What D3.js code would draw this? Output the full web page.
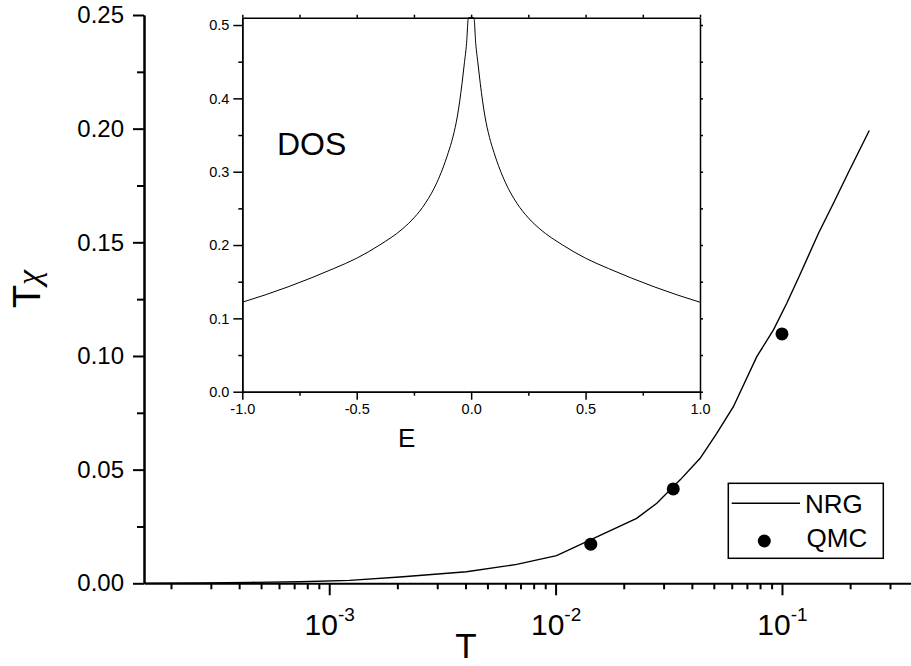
<!DOCTYPE html>
<html>
<head>
<meta charset="utf-8">
<script src="https://cdn.jsdelivr.net/npm/d3@7"></script>
<style>
  body { margin: 0; background: #fff; }
  svg { display: block; }
  text { font-family: "Liberation Sans", Arial, Helvetica, sans-serif; fill: #000; }
</style>
</head>
<body>
<svg id="chart" width="911" height="666"></svg>
<script>
// NRG susceptibility T*chi versus temperature T
const nrgT   = [1.52e-4, 2.7e-4, 4.5e-4, 7.4e-4, 1.23e-3, 2.05e-3, 4.04e-3, 6.73e-3, 0.0101,
                0.0228, 0.028, 0.0355, 0.0435, 0.0515, 0.061, 0.0774, 0.0917, 0.105, 0.120,
                0.145, 0.169, 0.196, 0.243];
const nrgChi = [0.0000, 0.0002, 0.0004, 0.0007, 0.0013, 0.0028, 0.0051, 0.0083, 0.0122,
                0.0286, 0.0352, 0.0455, 0.0550, 0.0660, 0.0777, 0.0997, 0.1115, 0.1232, 0.1357,
                0.1540, 0.1673, 0.1805, 0.1992];

// QMC points
const qmcT   = [0.0143, 0.0331, 0.1];
const qmcChi = [0.0172, 0.0415, 0.1097];

// density of states for the inset
const dosE   = [-1, -0.9, -0.8, -0.7, -0.6, -0.5, -0.4, -0.3, -0.25, -0.2, -0.15, -0.1, -0.08,
                -0.06, -0.04, -0.03, -0.02, -0.012,
                0.012, 0.02, 0.03, 0.04, 0.06, 0.08, 0.1, 0.15, 0.2, 0.25, 0.3, 0.4, 0.5, 0.6,
                0.7, 0.8, 0.9, 1];
const dosRho = [0.122, 0.132, 0.143, 0.155, 0.168, 0.182, 0.200, 0.222, 0.237, 0.257, 0.285, 0.326, 0.347,
                0.376, 0.420, 0.447, 0.475, 0.510,
                0.510, 0.475, 0.447, 0.420, 0.376, 0.347, 0.326, 0.285, 0.257, 0.237, 0.222, 0.200, 0.182, 0.168,
                0.155, 0.143, 0.132, 0.122];

// axis ticks and labels
const mainYTicks      = [0, 0.05, 0.10, 0.15, 0.20, 0.25];
const mainYMinorTicks = [0.025, 0.075, 0.125, 0.175, 0.225];
const mainXDecades    = [1e-4, 1e-3, 1e-2, 1e-1];
const mainXLabelled   = [1e-3, 1e-2, 1e-1];
const mainXExponents  = ["-3", "-2", "-1"];
const insetXTicks      = [-1, -0.5, 0, 0.5, 1];
const insetXLabels     = ["-1.0", "-0.5", "0.0", "0.5", "1.0"];
const insetXMinorTicks = [-0.75, -0.25, 0.25, 0.75];
const insetYTicks      = [0, 0.1, 0.2, 0.3, 0.4, 0.5];
const insetYLabels     = ["0.0", "0.1", "0.2", "0.3", "0.4", "0.5"];
const insetYMinorTicks = [0.05, 0.15, 0.25, 0.35, 0.45];

const svg = d3.select("#chart");

// ---------- main panel ----------
const x = d3.scaleLog().domain([1.52e-4, 0.3715]).range([144, 911]);
const y = d3.scaleLinear().domain([0, 0.25]).range([583.3, 15]);

const minorX = [];
mainXDecades.forEach(d => { for (let k = 2; k <= 9; k++) { const v = k * d; if (v >= x.domain()[0] && v <= x.domain()[1]) minorX.push(v); } });

// y axis
const gy = svg.append("g").attr("transform", "translate(144,0)");
gy.call(d3.axisLeft(y).tickValues(mainYMinorTicks).tickSize(7).tickSizeOuter(0).tickFormat(""));
gy.append("g").call(d3.axisLeft(y).tickValues(mainYTicks).tickSize(11).tickSizeOuter(0).tickPadding(9).tickFormat(d3.format(".2f")));
gy.selectAll("path.domain").attr("stroke-width", 2).attr("stroke", "#000");
gy.selectAll("line").attr("stroke-width", 2).attr("stroke", "#000");
gy.selectAll("text").style("font-size", "24px").attr("fill", "#000");

// x axis
const gx = svg.append("g").attr("transform", "translate(0,583.3)");
gx.call(d3.axisBottom(x).tickValues(minorX).tickSize(6).tickSizeOuter(0).tickFormat(""));
const gxMaj = gx.append("g").call(d3.axisBottom(x).tickValues(mainXLabelled).tickSize(12).tickSizeOuter(0).tickFormat(""));
gxMaj.select("path.domain").remove();
gx.selectAll("path.domain").attr("stroke-width", 2).attr("stroke", "#000");
gx.selectAll("line").attr("stroke-width", 2).attr("stroke", "#000");
gxMaj.selectAll(".tick text").remove();
gxMaj.selectAll(".tick").each(function (d, i) {
  const t = d3.select(this).append("text")
    .attr("y", 52).attr("text-anchor", "middle").attr("fill", "#000");
  t.append("tspan").style("font-size", "30px").text("10");
  t.append("tspan").style("font-size", "19px").attr("dy", -14).text(mainXExponents[i]);
});

// axis titles
svg.append("text")
  .attr("transform", "translate(40,289) rotate(-90)")
  .attr("text-anchor", "middle")
  .call(t => {
    t.append("tspan").style("font-size", "38px").text("T");
    t.append("tspan").style("font-size", "34px").style("font-family", "'Liberation Serif', serif").attr("font-style", "italic").text("χ");
  });
svg.append("text").attr("x", 466).attr("y", 658).attr("text-anchor", "middle")
  .style("font-size", "35px").text("T");

// NRG line
const nrgData = nrgT.map((t, i) => [t, nrgChi[i]]);
svg.append("path")
  .datum(nrgData)
  .attr("fill", "none").attr("stroke", "#000").attr("stroke-width", 1.4)
  .attr("d", d3.line().x(d => x(d[0])).y(d => y(d[1])));

// QMC markers
svg.append("g").selectAll("circle")
  .data(qmcT.map((t, i) => [t, qmcChi[i]]))
  .join("circle")
  .attr("cx", d => x(d[0])).attr("cy", d => y(d[1])).attr("r", 6.5).attr("fill", "#000");

// legend
const lg = svg.append("g");
lg.append("rect").attr("x", 728.3).attr("y", 483.3).attr("width", 155).attr("height", 75)
  .attr("fill", "#fff").attr("stroke", "#000").attr("stroke-width", 1.5);
lg.append("line").attr("x1", 731.7).attr("x2", 800).attr("y1", 503.3).attr("y2", 503.3)
  .attr("stroke", "#000").attr("stroke-width", 1.4);
lg.append("text").attr("x", 805).attr("y", 513.3).style("font-size", "26px").text("NRG");
lg.append("circle").attr("cx", 764.3).attr("cy", 541).attr("r", 6.5).attr("fill", "#000");
lg.append("text").attr("x", 806.5).attr("y", 547.3).style("font-size", "26px").text("QMC");

// ---------- inset: DOS ----------
const ix = d3.scaleLinear().domain([-1, 1]).range([242.3, 700]);
const iy = d3.scaleLinear().domain([0, 0.51]).range([391.7, 17.7]);

const ins = svg.append("g");
ins.append("rect").attr("x", 242.3).attr("y", 17.7).attr("width", 700 - 242.3).attr("height", 391.7 - 17.7)
  .attr("fill", "#fff").attr("stroke", "none");

function styleAxis(g, w) {
  g.selectAll("path.domain").attr("stroke", "#000").attr("stroke-width", w);
  g.selectAll("line").attr("stroke", "#000").attr("stroke-width", w);
  g.selectAll("text").style("font-size", "14.5px").attr("fill", "#000");
}

const ily = ins.append("g").attr("transform", "translate(242.3,0)");
ily.call(d3.axisLeft(iy).tickValues(insetYMinorTicks).tickSize(4).tickSizeOuter(0).tickFormat(""));
ily.append("g").call(d3.axisLeft(iy).tickValues(insetYTicks).tickSize(9).tickSizeOuter(0).tickPadding(4)
  .tickFormat((d, i) => insetYLabels[i]));
styleAxis(ily, 1.5);

const iry = ins.append("g").attr("transform", "translate(700,0)");
iry.call(d3.axisRight(iy).tickValues(insetYTicks.concat(insetYMinorTicks)).tickSize(3).tickSizeOuter(0).tickFormat(""));
styleAxis(iry, 1.5);

const ibx = ins.append("g").attr("transform", "translate(0,391.7)");
ibx.call(d3.axisBottom(ix).tickValues(insetXMinorTicks).tickSize(4).tickSizeOuter(0).tickFormat(""));
ibx.append("g").call(d3.axisBottom(ix).tickValues(insetXTicks).tickSize(8).tickSizeOuter(0).tickPadding(4)
  .tickFormat((d, i) => insetXLabels[i]));
styleAxis(ibx, 1.5);

const itx = ins.append("g").attr("transform", "translate(0,17.7)");
itx.call(d3.axisTop(ix).tickValues(insetXTicks.concat(insetXMinorTicks)).tickSize(3).tickSizeOuter(0).tickFormat(""));
styleAxis(itx, 1.5);

ins.append("path")
  .datum(dosE.map((e, i) => [e, dosRho[i]]))
  .attr("fill", "none").attr("stroke", "#000").attr("stroke-width", 1)
  .attr("d", d3.line().x(d => ix(d[0])).y(d => iy(d[1])).curve(d3.curveMonotoneX));

ins.append("text").attr("x", 398).attr("y", 447).style("font-size", "26px").text("E");
ins.append("text").attr("x", 277).attr("y", 155).style("font-size", "32px").text("DOS");
</script>
</body>
</html>
